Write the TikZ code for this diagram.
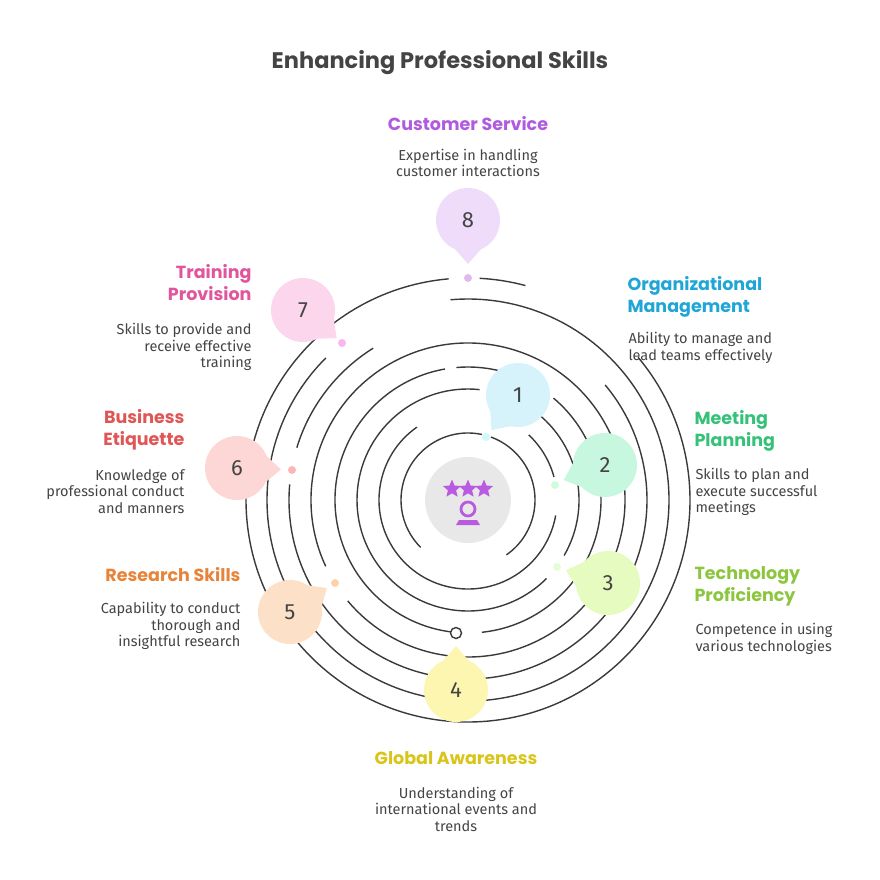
\documentclass[tikz,border=0pt]{standalone}
\usepackage{fontspec}
\setmainfont{Fira Sans}
\newfontfamily\headfont{Poppins}
\usetikzlibrary{calc,shapes.geometric}
\definecolor{ringgray}{HTML}{3A3A3A}
\definecolor{fillA}{HTML}{D6F3FB}\definecolor{textA}{HTML}{1FA6D6}
\definecolor{fillB}{HTML}{C8F7E0}\definecolor{textB}{HTML}{35C178}
\definecolor{fillC}{HTML}{E5FBC0}\definecolor{textC}{HTML}{8CC63F}
\definecolor{fillD}{HTML}{FDF6B0}\definecolor{textD}{HTML}{D9C51A}
\definecolor{fillE}{HTML}{FDE0C8}\definecolor{textE}{HTML}{E8843A}
\definecolor{fillF}{HTML}{FDD6D6}\definecolor{textF}{HTML}{E05555}
\definecolor{fillG}{HTML}{FCD6EC}\definecolor{textG}{HTML}{E0559C}
\definecolor{fillH}{HTML}{EFDCFB}\definecolor{textH}{HTML}{B05AE0}
\definecolor{iconpurple}{HTML}{B85BE0}
\definecolor{bodygray}{HTML}{444444}

% bubble: name, position, tail angle, colour, number
\newcommand{\skillbubble}[5]{%
  \coordinate (#1) at (#2);
  \fill[#4] ($(#1)+(#3+28:31)$) -- ($(#1)+(#3:44)$) -- ($(#1)+(#3-28:31)$) -- cycle;
  \fill[#4] (#1) circle (32);
  \node[font=\fontsize{22}{22}\selectfont, text=bodygray] at (#1) {#5};
}

\begin{document}
\begin{tikzpicture}[x=1pt,y=1pt,
  ring/.style={draw=ringgray,line width=1.4pt},
  heading/.style={font=\headfont\bfseries\fontsize{17.5}{22}\selectfont},
  body/.style={font=\fontsize{14.5}{16.5}\selectfont,text=bodygray},
  dot/.style={circle,inner sep=0pt,minimum size=8pt}]
\useasboundingbox (0,0) rectangle (880,-880);

\node[heading,text=bodygray,font=\headfont\bfseries\fontsize{22.5}{24}\selectfont] (title) at (440,-63) {Enhancing Professional Skills};

\coordinate (ctr) at (468,-500);
% rings
\foreach \r/\a/\b in {67/78/225, 67/-55/70,
  89/125/350, 89/15/47,
  111/84/315, 111/-30/60,
  133/100/266, 133/-84/50, 133/60/95,
  157/-60/205, 157/220/300,
  179/175/400, 179/122/163,
  201/135/455,
  222/95/400, 222/75/87}
  \draw[ring] (ctr) ++(\a:\r) arc[start angle=\a, end angle=\b, radius=\r];

% hub
\fill[gray!18] (ctr) circle (43);
\foreach \dx in {-16,0,16}
  \node[star,star points=5,star point ratio=2.2,fill=iconpurple,inner sep=0pt,minimum size=19pt] at ($(ctr)+(\dx,11)$) {};
\draw[iconpurple,line width=2.8pt] ($(ctr)+(0,-9)$) circle (7);
\fill[iconpurple] ($(ctr)+(-9,-20)$) -- ($(ctr)+(9,-20)$) -- ($(ctr)+(12,-25)$) -- ($(ctr)+(-12,-25)$) -- cycle;

% bubbles
\skillbubble{b1}{518,-395}{-127}{fillA}{1}
\skillbubble{b2}{605,-465}{200}{fillB}{2}
\skillbubble{b3}{608,-583}{163}{fillC}{3}
\skillbubble{b4}{456,-690}{90}{fillD}{4}
\skillbubble{b5}{290,-612}{33}{fillE}{5}
\skillbubble{b6}{237,-468}{-2}{fillF}{6}
\skillbubble{b7}{303,-310}{-40}{fillG}{7}
\skillbubble{b8}{468,-220}{-90}{fillH}{8}

% dots on the rings
\node[dot,fill=fillA!80!cyan!60] (d1) at (486,-437) {};
\node[dot,fill=fillB!80!green!50] (d2) at (555,-485) {};
\node[dot,fill=fillC!80!green!40] (d3) at (557,-567) {};
\node[dot,fill=white,draw=ringgray,line width=1.4pt,minimum size=11pt] (d4) at (456,-633) {};
\node[dot,fill=fillE!85!orange] (d5) at (335,-583) {};
\node[dot,fill=fillF!85!red] (d6) at (292,-470) {};
\node[dot,fill=fillG!85!magenta] (d7) at (342,-343) {};
\node[dot,fill=fillH!85!violet] (d8) at (468,-278) {};

% labels
\node[heading,text=textH] (t8) at (468,-124) {Customer Service};
\node[body,align=center] (x8) at (468,-163) {Expertise in handling\\customer interactions};

\node[heading,text=textA,anchor=north west,align=left] (t1) at (624,-273) {Organizational\\Management};
\node[body,anchor=north west,align=left] (x1) at (625,-329) {Ability to manage and\\lead teams effectively};

\node[heading,text=textB,anchor=north west,align=left] (t2) at (691,-407) {Meeting\\Planning};
\node[body,anchor=north west,align=left] (x2) at (692,-465) {Skills to plan and\\execute successful\\meetings};

\node[heading,text=textC,anchor=north west,align=left] (t3) at (691,-563) {Technology\\Proficiency};
\node[body,anchor=north west,align=left] (x3) at (692,-620) {Competence in using\\various technologies};

\node[heading,text=textD] (t4) at (456,-758) {Global Awareness};
\node[body,align=center] (x4) at (456,-809) {Understanding of\\international events and\\trends};

\node[heading,text=textE,anchor=east] (t5) at (244,-575) {Research Skills};
\node[body,anchor=north east,align=right] (x5) at (244,-599) {Capability to conduct\\thorough and\\insightful research};

\node[heading,text=textF,anchor=north east,align=right] (t6) at (188,-406) {Business\\Etiquette};
\node[body,anchor=north east,align=right] (x6) at (188,-466) {Knowledge of\\professional conduct\\and manners};

\node[heading,text=textG,anchor=north east,align=right] (t7) at (255,-261) {Training\\Provision};
\node[body,anchor=north east,align=right] (x7) at (255,-320) {Skills to provide and\\receive effective\\training};
\end{tikzpicture}
\end{document}
